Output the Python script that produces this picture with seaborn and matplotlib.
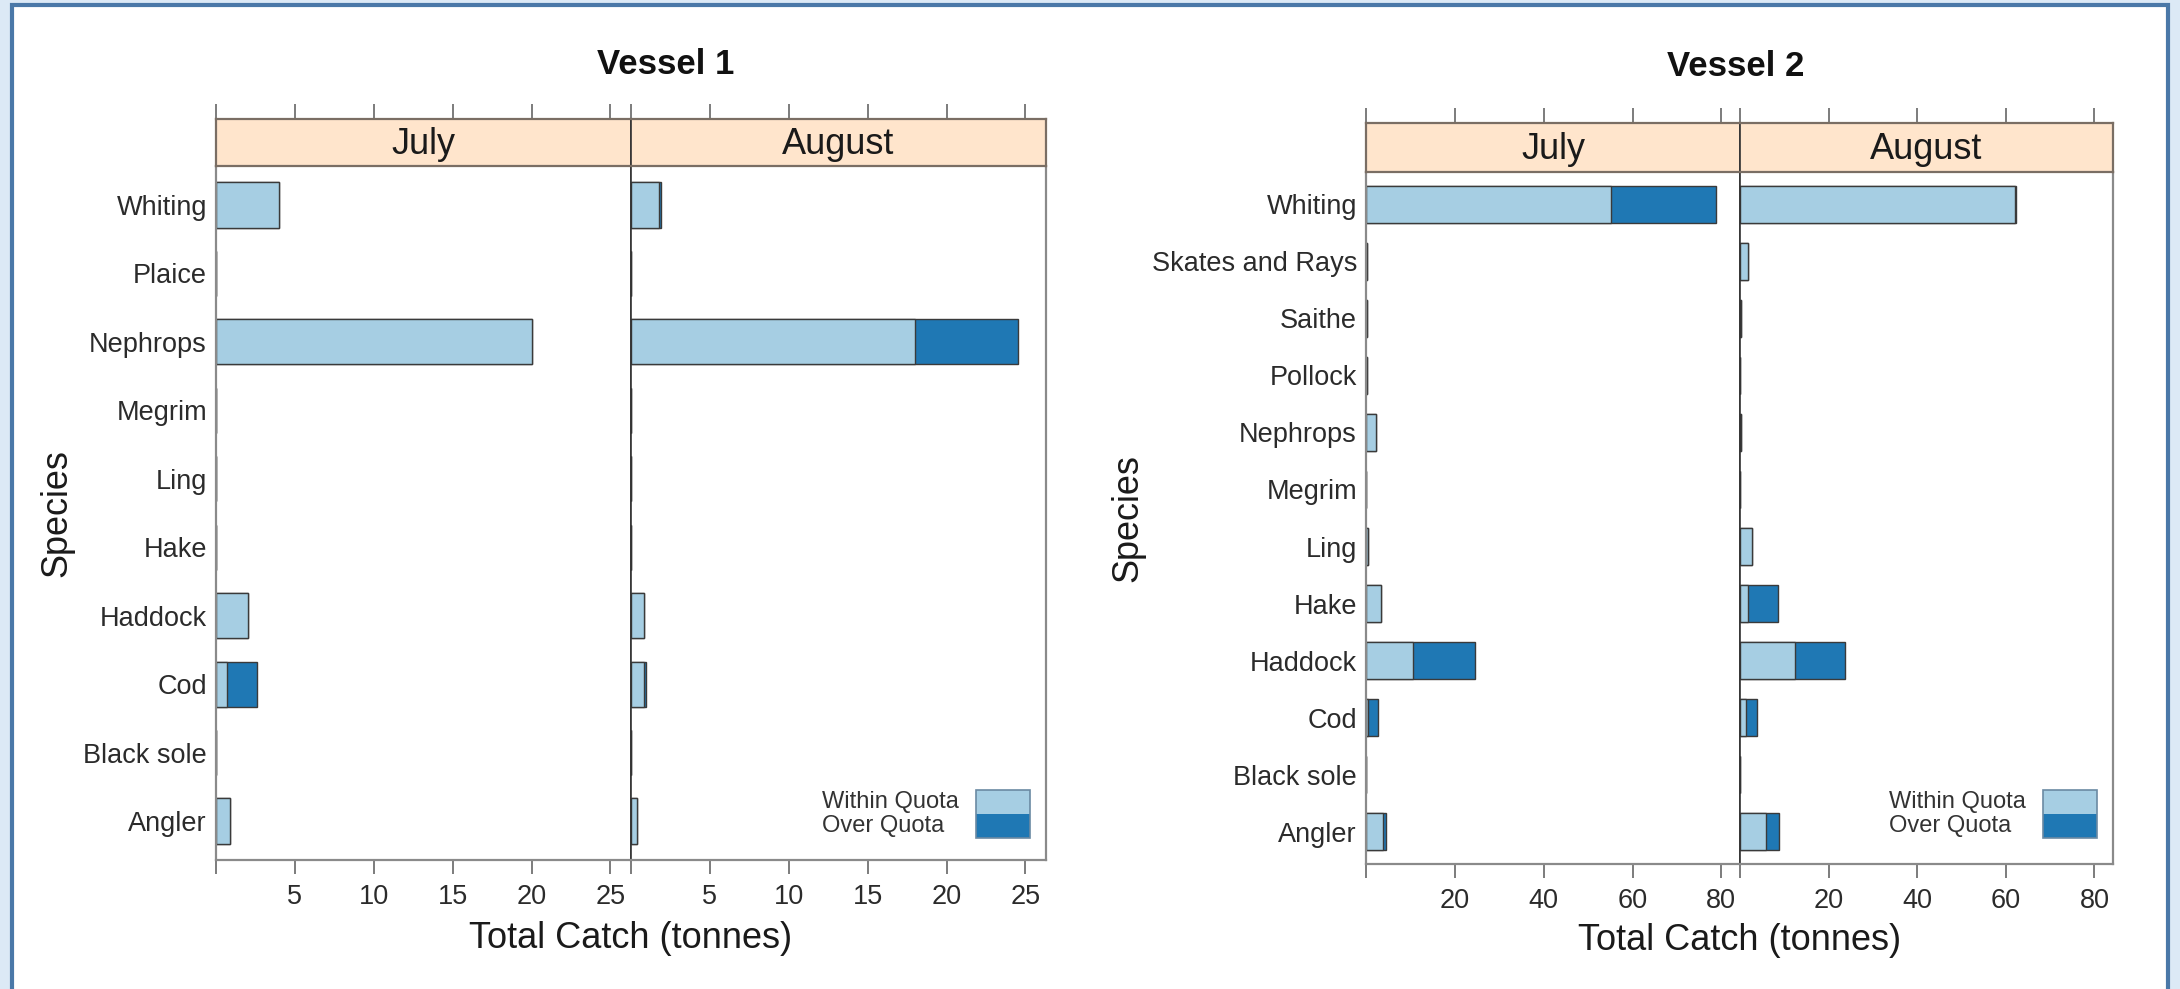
import matplotlib
matplotlib.use('Agg')
import matplotlib.pyplot as plt
import seaborn as sns
import pandas as pd
from matplotlib.patches import Rectangle

# ---------------- data ----------------
months = ['July', 'August']
legend_labels = ['Within Quota', 'Over Quota']

v1_species = ['Whiting', 'Plaice', 'Nephrops', 'Megrim', 'Ling', 'Hake',
              'Haddock', 'Cod', 'Black sole', 'Angler']
v1_jul_within = [4.0, 0.0, 20.0, 0.0, 0.0, 0.0, 2.05, 0.67, 0.0, 0.9]
v1_jul_over = [0.0, 0.0, 0.0, 0.0, 0.0, 0.0, 0.0, 1.95, 0.0, 0.0]
v1_aug_within = [1.8, 0.0, 18.0, 0.0, 0.0, 0.0, 0.8, 0.85, 0.0, 0.35]
v1_aug_over = [0.12, 0.0, 6.5, 0.0, 0.0, 0.0, 0.0, 0.1, 0.0, 0.0]
v1_ticks = [0, 5, 10, 15, 20, 25]
v1_ticklabels = ['', '5', '10', '15', '20', '25']
v1_xmax = 26.3

v2_species = ['Whiting', 'Skates and Rays', 'Saithe', 'Pollock', 'Nephrops',
              'Megrim', 'Ling', 'Hake', 'Haddock', 'Cod', 'Black sole', 'Angler']
v2_jul_within = [55.2, 0.3, 0.2, 0.2, 2.2, 0.0, 0.4, 3.3, 10.6, 0.5, 0.0, 3.9]
v2_jul_over = [23.7, 0.0, 0.0, 0.0, 0.0, 0.0, 0.0, 0.0, 14.0, 2.2, 0.0, 0.5]
v2_aug_within = [62.0, 1.7, 0.3, 0.1, 0.3, 0.0, 2.8, 1.7, 12.4, 1.4, 0.0, 5.8]
v2_aug_over = [0.3, 0.0, 0.0, 0.0, 0.0, 0.0, 0.0, 6.8, 11.2, 2.5, 0.0, 3.1]
v2_ticks = [0, 20, 40, 60, 80]
v2_ticklabels = ['', '20', '40', '60', '80']
v2_xmax = 84.2

# ---------------- style ----------------
LIGHT = '#a6cee3'
DARK = '#1f78b4'
EDGE = '#3a3a3a'
STRIP = '#ffe5cc'
FRAME = '#8a8a8a'
DIV = '#333333'
TXT = '#2b2b2b'

sns.set_theme(style='white')
plt.rcParams['font.family'] = ['Liberation Sans', 'DejaVu Sans']

W, H = 2180, 989
fig = plt.figure(figsize=(W / 100, H / 100), dpi=100)
fig.patch.set_facecolor('#dce9f6')
fig.patches.append(Rectangle((12 / W, -0.02), (2168 - 12) / W, 1.02 - 5 / H,
                             transform=fig.transFigure, facecolor='white',
                             edgecolor='#4a78a8', linewidth=3, zorder=-10))


def box(x0, y0, x1, y1):
    return [x0 / W, 1 - y1 / H, (x1 - x0) / W, (y1 - y0) / H]


def draw_panel(px, species, within, over, month, xmax, ticks, ticklabels, first):
    x0, x1, ys0, ys1, yp1 = px
    ax = fig.add_axes(box(x0, ys1, x1, yp1))
    sax = fig.add_axes(box(x0, ys0, x1, ys1))
    ax.set_zorder(1)
    sax.set_zorder(1)
    df = pd.DataFrame({'species': species,
                       'within': within,
                       'total': [w + o for w, o in zip(within, over)]})
    sns.barplot(data=df, x='total', y='species', order=species, orient='h',
                color=DARK, saturation=1, width=0.66, edgecolor=EDGE,
                linewidth=1.0, errorbar=None, ax=ax)
    sns.barplot(data=df, x='within', y='species', order=species, orient='h',
                color=LIGHT, saturation=1, width=0.66, edgecolor=EDGE,
                linewidth=1.0, errorbar=None, ax=ax)
    n = len(species)
    ax.set_xlim(0, xmax)
    ax.set_ylim(n - 1 + 0.57, -0.57)
    ax.set_xlabel('')
    ax.set_ylabel('')
    ax.set_xticks(ticks)
    ax.set_xticklabels(ticklabels)
    ax.tick_params(axis='x', bottom=True, direction='out', length=10, width=1.2,
                   color='#666666', labelsize=19.5, labelcolor=TXT, pad=7)
    ax.tick_params(axis='y', left=False, length=0, pad=6.5, labelsize=19.5,
                   labelcolor=TXT, labelleft=first)
    for s in ['left', 'right', 'bottom', 'top']:
        ax.spines[s].set_visible(True)
        ax.spines[s].set_color(FRAME)
        ax.spines[s].set_linewidth(1.6)
    ax.spines['top'].set_visible(False)
    if first:
        ax.spines['right'].set_color(DIV)
        ax.spines['right'].set_linewidth(1.2)
    else:
        ax.spines['left'].set_color(DIV)
        ax.spines['left'].set_linewidth(1.2)

    sax.set_facecolor(STRIP)
    sax.set_xlim(0, xmax)
    sax.set_ylim(0, 1)
    sax.set_xticks(ticks)
    sax.set_yticks([])
    sax.tick_params(axis='x', top=True, bottom=False, labeltop=False,
                    labelbottom=False, direction='out', length=11, width=1.2,
                    color='#666666')
    for s in ['left', 'right', 'bottom', 'top']:
        sax.spines[s].set_visible(True)
        sax.spines[s].set_color('#7a6e64')
        sax.spines[s].set_linewidth(1.6)
    if first:
        sax.spines['right'].set_color(DIV)
        sax.spines['right'].set_linewidth(1.2)
    else:
        sax.spines['left'].set_color(DIV)
        sax.spines['left'].set_linewidth(1.2)
    sax.text(0.5, 0.46, month, transform=sax.transAxes, ha='center',
             va='center', fontsize=26, color='#1a1a1a')
    return ax


def draw_legend(xr, yb):
    bw, bh = 54, 24
    fig.patches.append(Rectangle(((xr - bw) / W, 1 - yb / H), bw / W, bh / H,
                                 transform=fig.transFigure, facecolor=DARK,
                                 edgecolor='none', zorder=5))
    fig.patches.append(Rectangle(((xr - bw) / W, 1 - (yb - bh) / H), bw / W, bh / H,
                                 transform=fig.transFigure, facecolor=LIGHT,
                                 edgecolor='none', zorder=5))
    fig.patches.append(Rectangle(((xr - bw) / W, 1 - yb / H), bw / W, 2 * bh / H,
                                 transform=fig.transFigure, facecolor='none',
                                 edgecolor='#6b8aa3', linewidth=1.2, zorder=6))
    tx = xr - bw - 154
    fig.text(tx / W, 1 - (yb - 1.5 * bh) / H, legend_labels[0], ha='left',
             va='center', fontsize=17, color='#333333', zorder=6)
    fig.text(tx / W, 1 - (yb - 0.5 * bh) / H, legend_labels[1], ha='left',
             va='center', fontsize=17, color='#333333', zorder=6)


# Vessel 1
draw_panel((216, 631, 119, 166, 860), v1_species, v1_jul_within, v1_jul_over,
           months[0], v1_xmax, v1_ticks, v1_ticklabels, True)
draw_panel((631, 1046, 119, 166, 860), v1_species, v1_aug_within, v1_aug_over,
           months[1], v1_xmax, v1_ticks, v1_ticklabels, False)
draw_legend(1030, 838)

# Vessel 2
draw_panel((1366, 1740, 123, 172, 864), v2_species, v2_jul_within, v2_jul_over,
           months[0], v2_xmax, v2_ticks, v2_ticklabels, True)
draw_panel((1740, 2113, 123, 172, 864), v2_species, v2_aug_within, v2_aug_over,
           months[1], v2_xmax, v2_ticks, v2_ticklabels, False)
draw_legend(2097, 838)

# titles and axis labels
fig.text(666 / W, 1 - 64 / H, 'Vessel 1', ha='center', va='center',
         fontsize=25, fontweight='bold', color='#111111')
fig.text(1736 / W, 1 - 67 / H, 'Vessel 2', ha='center', va='center',
         fontsize=25, fontweight='bold', color='#111111')
fig.text(57 / W, 1 - 513 / H, 'Species', rotation=90, ha='center',
         va='center', fontsize=26, color='#1a1a1a')
fig.text(1128 / W, 1 - 518 / H, 'Species', rotation=90, ha='center',
         va='center', fontsize=26, color='#1a1a1a')
fig.text(631 / W, 1 - 939 / H, 'Total Catch (tonnes)', ha='center',
         va='center', fontsize=26, color='#1a1a1a')
fig.text(1740 / W, 1 - 941 / H, 'Total Catch (tonnes)', ha='center',
         va='center', fontsize=26, color='#1a1a1a')

fig.savefig('out.png', dpi=100, facecolor=fig.get_facecolor())
